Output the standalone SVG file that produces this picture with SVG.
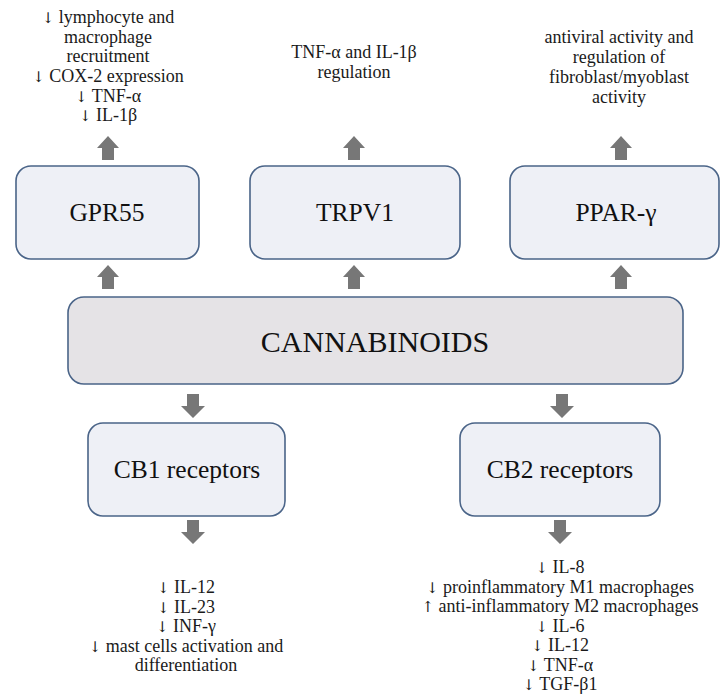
<svg xmlns="http://www.w3.org/2000/svg" xmlns:xlink="http://www.w3.org/1999/xlink" width="721" height="698" viewBox="0 0 721 698">
<style>
.box{fill:#eef0f6;stroke:#4a6488;stroke-width:1.6}
.main{fill:#e5e3e6;stroke:#4a6488;stroke-width:1.6}
.lbl{font-family:"Liberation Serif","DejaVu Serif",serif;font-size:25.5px;fill:#111;text-anchor:middle}
.big{font-family:"Liberation Serif","DejaVu Serif",serif;font-size:30px;fill:#111;text-anchor:middle}
.txt{font-family:"Liberation Serif","DejaVu Serif",serif;font-size:18px;fill:#1a1a1a;text-anchor:middle}
.a{font-family:"DejaVu Serif",serif;font-size:15px;fill:#1a1a1a}
.arr{fill:#777777}
</style>
<defs>
<path id="up" d="M0,0 L11,12 L6,12 L6,24 L-6,24 L-6,12 L-11,12 Z"/>
<path id="dn" d="M0,24 L12,12 L6,12 L6,0 L-6,0 L-6,12 L-12,12 Z"/>
</defs>
<rect width="721" height="698" fill="#ffffff"/>
<g id="connectors" class="arr">
<use xlink:href="#up" x="108" y="136"/>
<use xlink:href="#up" x="354" y="136"/>
<use xlink:href="#up" x="621" y="136"/>
<use xlink:href="#up" x="108" y="265"/>
<use xlink:href="#up" x="354" y="265"/>
<use xlink:href="#up" x="621" y="265"/>
<use xlink:href="#dn" x="193" y="394"/>
<use xlink:href="#dn" x="562" y="394"/>
<use xlink:href="#dn" x="193" y="520"/>
<use xlink:href="#dn" x="560" y="520"/>
</g>
<g id="gpr55-effects">
<text class="txt" x="108" y="23"><tspan class="a">↓</tspan> lymphocyte and</text>
<text class="txt" x="108" y="42.5">macrophage</text>
<text class="txt" x="108" y="62">recruitment</text>
<text class="txt" x="108" y="82"><tspan class="a">↓</tspan> COX-2 expression</text>
<text class="txt" x="108" y="101.5"><tspan class="a">↓</tspan> TNF-α</text>
<text class="txt" x="108" y="121"><tspan class="a">↓</tspan> IL-1β</text>
</g>
<g id="trpv1-effects">
<text class="txt" x="354" y="58">TNF-α and IL-1β</text>
<text class="txt" x="354" y="78">regulation</text>
</g>
<g id="ppar-effects">
<text class="txt" x="619" y="43">antiviral activity and</text>
<text class="txt" x="619" y="63">regulation of</text>
<text class="txt" x="619" y="83">fibroblast/myoblast</text>
<text class="txt" x="619" y="103">activity</text>
</g>
<g id="gpr55">
<rect class="box" x="16" y="166" width="183" height="93" rx="15"/>
<text class="lbl" x="107" y="221">GPR55</text>
</g>
<g id="trpv1">
<rect class="box" x="250" y="166" width="210" height="93" rx="15"/>
<text class="lbl" x="355" y="221">TRPV1</text>
</g>
<g id="ppar">
<rect class="box" x="510" y="166" width="209" height="93" rx="15"/>
<text class="lbl" x="616" y="221">PPAR-γ</text>
</g>
<g id="cannabinoids">
<rect class="main" x="68" y="297" width="615" height="87" rx="16"/>
<text class="big" x="375" y="352">CANNABINOIDS</text>
</g>
<g id="cb1">
<rect class="box" x="88" y="423" width="197" height="93" rx="15"/>
<text class="lbl" x="187" y="478">CB1 receptors</text>
</g>
<g id="cb2">
<rect class="box" x="460" y="423" width="200" height="93" rx="15"/>
<text class="lbl" x="560" y="478">CB2 receptors</text>
</g>
<g id="cb1-effects">
<text class="txt" x="186" y="593"><tspan class="a">↓</tspan> IL-12</text>
<text class="txt" x="186" y="612.5"><tspan class="a">↓</tspan> IL-23</text>
<text class="txt" x="186" y="632"><tspan class="a">↓</tspan> INF-γ</text>
<text class="txt" x="186" y="651.5"><tspan class="a">↓</tspan> mast cells activation and</text>
<text class="txt" x="186" y="671">differentiation</text>
</g>
<g id="cb2-effects">
<text class="txt" x="560" y="573"><tspan class="a">↓</tspan> IL-8</text>
<text class="txt" x="560" y="592.5"><tspan class="a">↓</tspan> proinflammatory M1 macrophages</text>
<text class="txt" x="560" y="612"><tspan class="a">↑</tspan> anti-inflammatory M2 macrophages</text>
<text class="txt" x="560" y="631.5"><tspan class="a">↓</tspan> IL-6</text>
<text class="txt" x="560" y="651"><tspan class="a">↓</tspan> IL-12</text>
<text class="txt" x="560" y="670.5"><tspan class="a">↓</tspan> TNF-α</text>
<text class="txt" x="560" y="690"><tspan class="a">↓</tspan> TGF-β1</text>
</g>
</svg>
